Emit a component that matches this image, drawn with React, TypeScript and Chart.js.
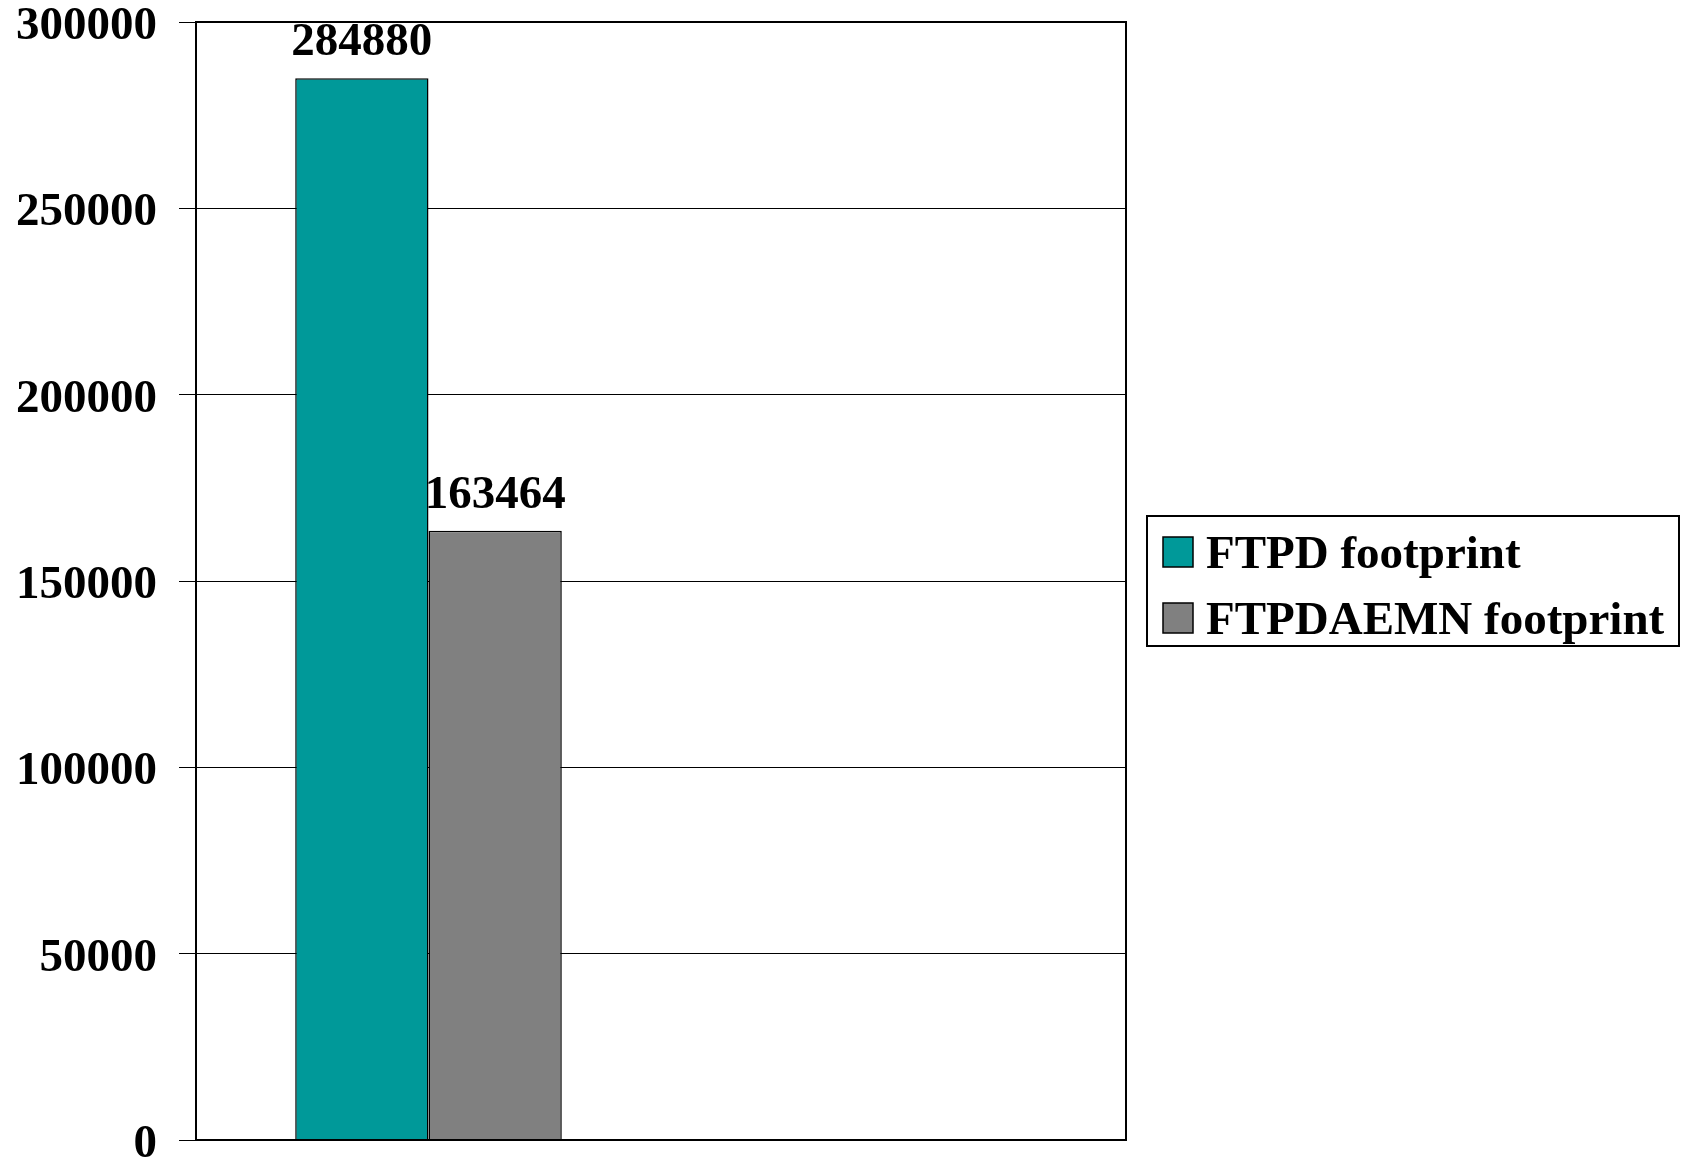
import React, { useEffect, useRef } from 'react';
import { Chart, registerables } from 'chart.js';

Chart.register(...registerables);

// Two category slots; only the first one carries measurements.
const categories = ['', ''];
const seriesNames = ['FTPD footprint', 'FTPDAEMN footprint'];
const ftpdFootprint = [284880, null];
const ftpdaemnFootprint = [163464, null];
const seriesColors = ['#009999', '#808080'];
const yMin = 0;
const yMax = 300000;
const yStep = 50000;

const FONT_FAMILY = "'Liberation Serif', 'Times New Roman', serif";
const FONT_SIZE = 47;
const BOLD_FONT = `bold ${FONT_SIZE}px ${FONT_FAMILY}`;

// Value written above each bar.
const valueLabels = {
  id: 'valueLabels',
  afterDatasetsDraw(chart: any) {
    const { ctx } = chart;
    ctx.save();
    ctx.font = BOLD_FONT;
    ctx.fillStyle = '#000';
    ctx.textAlign = 'center';
    ctx.textBaseline = 'alphabetic';
    chart.data.datasets.forEach((ds: any, di: number) => {
      const meta = chart.getDatasetMeta(di);
      meta.data.forEach((bar: any, i: number) => {
        const v = ds.data[i];
        if (v === null || v === undefined) return;
        ctx.fillText(String(v), bar.x, bar.y - 23);
      });
    });
    ctx.restore();
  },
};

// Y tick labels, set slightly below their grid lines.
const yTickLabels = {
  id: 'yTickLabels',
  afterDraw(chart: any) {
    const { ctx } = chart;
    const scale = chart.scales.y;
    ctx.save();
    ctx.font = BOLD_FONT;
    ctx.fillStyle = '#000';
    ctx.textAlign = 'right';
    ctx.textBaseline = 'middle';
    scale.ticks.forEach((t: any) => {
      const y = scale.getPixelForValue(t.value);
      ctx.fillText(String(t.value), scale.right - 39, y + 5);
    });
    ctx.restore();
  },
};

// Black frame around the plot area.
const plotFrame = {
  id: 'plotFrame',
  afterDatasetsDraw(chart: any) {
    const { ctx, chartArea: a } = chart;
    ctx.save();
    ctx.strokeStyle = '#000';
    ctx.lineWidth = 2;
    ctx.strokeRect(a.left, a.top, a.right - a.left, a.bottom - a.top);
    ctx.restore();
  },
};

// Boxed legend to the right of the plot, centred on it vertically.
const boxedLegend = {
  id: 'boxedLegend',
  afterDraw(chart: any) {
    const { ctx, chartArea: a } = chart;
    const cy = (a.top + a.bottom) / 2;
    const left = a.right + 21;
    const top = cy - 65;
    const width = 532;
    const height = 130;
    const swatch = 30;
    const rowPitch = 66;
    ctx.save();
    ctx.fillStyle = '#fff';
    ctx.fillRect(left, top, width, height);
    ctx.strokeStyle = '#000';
    ctx.lineWidth = 2;
    ctx.strokeRect(left, top, width, height);
    ctx.font = BOLD_FONT;
    ctx.textAlign = 'left';
    ctx.textBaseline = 'alphabetic';
    chart.data.datasets.forEach((ds: any, i: number) => {
      const sy = top + 21 + i * rowPitch;
      ctx.fillStyle = ds.backgroundColor;
      ctx.fillRect(left + 16, sy, swatch, swatch);
      ctx.lineWidth = 1.5;
      ctx.strokeStyle = '#000';
      ctx.strokeRect(left + 16, sy, swatch, swatch);
      ctx.fillStyle = '#000';
      ctx.fillText(ds.label, left + 59, sy + 31);
    });
    ctx.restore();
  },
};

export default function App() {
  const canvasRef = useRef<HTMLCanvasElement | null>(null);

  useEffect(() => {
    if (!canvasRef.current) return;
    const chart = new Chart(canvasRef.current, {
      type: 'bar',
      data: {
        labels: categories,
        datasets: [
          {
            label: seriesNames[0],
            data: ftpdFootprint,
            backgroundColor: seriesColors[0],
            borderColor: '#000',
            borderWidth: 1.5,
          },
          {
            label: seriesNames[1],
            data: ftpdaemnFootprint,
            backgroundColor: seriesColors[1],
            borderColor: '#000',
            borderWidth: 1.5,
          },
        ],
      },
      options: {
        responsive: false,
        animation: false,
        devicePixelRatio: 1,
        layout: { padding: { top: 22, right: 559, bottom: 24, left: 0 } },
        datasets: {
          bar: { categoryPercentage: 0.5733, barPercentage: 1, borderSkipped: 'start' },
        },
        plugins: {
          legend: { display: false },
          tooltip: { enabled: false },
        },
        scales: {
          x: {
            grid: { display: false },
            border: { display: false },
            ticks: { display: false },
            afterFit: (s: any) => {
              s.height = 0;
              s.paddingLeft = 0;
              s.paddingRight = 0;
            },
          },
          y: {
            min: yMin,
            max: yMax,
            ticks: {
              stepSize: yStep,
              padding: 22,
              color: 'rgba(0,0,0,0)',
              font: { family: FONT_FAMILY, size: FONT_SIZE, weight: 'bold' },
              callback: (v: any) => String(v),
            },
            grid: { color: '#000', lineWidth: 1, tickLength: 17, drawTicks: true },
            border: { display: false },
            afterFit: (s: any) => {
              s.width = 196;
              s.paddingTop = 0;
              s.paddingBottom = 0;
            },
          },
        },
      },
      plugins: [valueLabels, plotFrame, yTickLabels, boxedLegend],
    });
    return () => chart.destroy();
  }, []);

  return (
    <div
      style={{
        position: 'fixed',
        left: 0,
        top: 0,
        width: 1685,
        height: 1164,
        background: '#fff',
      }}
    >
      <canvas ref={canvasRef} width={1685} height={1164} />
    </div>
  );
}
